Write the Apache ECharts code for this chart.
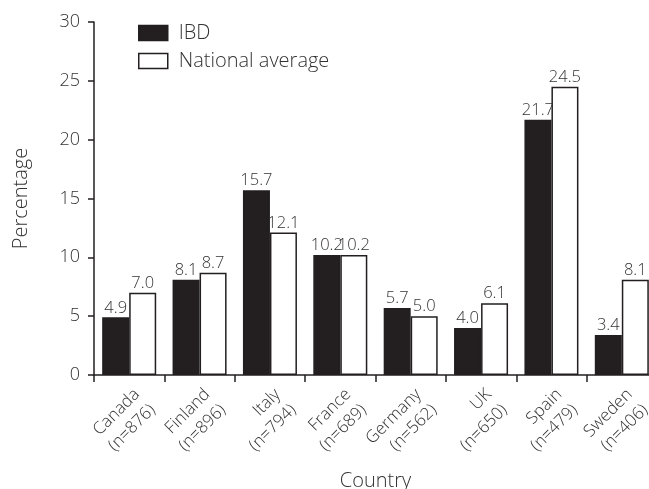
<!DOCTYPE html>
<html><head><meta charset="utf-8">
<script src="https://cdn.jsdelivr.net/npm/echarts@6/dist/echarts.min.js"></script>
<style>html,body{margin:0;padding:0;background:#fff}#c{width:649px;height:489px}</style>
</head><body><div id="c"></div>
<script>
const countries = ["Canada", "Finland", "Italy", "France", "Germany", "UK", "Spain", "Sweden"];
const sampleSizes = [876, 896, 794, 689, 562, 650, 479, 406];
const ibd = [4.9, 8.1, 15.7, 10.2, 5.7, 4.0, 21.7, 3.4];
const national = [7.0, 8.7, 12.1, 10.2, 5.0, 6.1, 24.5, 8.1];
const yTicks = [0, 5, 10, 15, 20, 25, 30];

const FONT = "Open Sans";
const TXT = "#333";
const categories = countries.map((c, i) => c + "\n(n=" + sampleSizes[i] + ")");

const chart = echarts.init(document.getElementById('c'), null, {renderer: 'canvas'});
const labelCfg = {show: true, position: 'top', distance: 1, fontFamily: FONT, fontWeight: 300, fontSize: 16.5, color: TXT,
  formatter: p => p.value.toFixed(1)};
chart.setOption({
  animation: false,
  textStyle: {fontFamily: FONT},
  grid: {left: 94, top: 22, bottom: 114, width: 563, containLabel: false, outerBoundsMode: 'none'},
  legend: {
    orient: 'vertical', left: 133, top: 18, itemWidth: 29, itemHeight: 15, itemGap: 8,
    textStyle: {fontFamily: FONT, fontWeight: 300, fontSize: 20, color: TXT, padding: [0, 0, 0, 6]},
    data: [
      {name: 'IBD', icon: 'rect', itemStyle: {color: '#231f20', borderColor: '#231f20', borderWidth: 1.5}},
      {name: 'National average', icon: 'rect', itemStyle: {color: '#fff', borderColor: '#231f20', borderWidth: 1.5}}
    ]
  },
  xAxis: {
    type: 'category', data: categories,
    name: 'Country', nameLocation: 'middle', nameGap: 82,
    nameTextStyle: {fontFamily: FONT, fontWeight: 300, fontSize: 20, color: TXT},
    axisLine: {lineStyle: {color: '#231f20', width: 1.5}},
    axisTick: {show: true, length: 7, lineStyle: {color: '#231f20', width: 1.5}},
    axisLabel: {rotate: 45, margin: 9, fontFamily: FONT, fontWeight: 300, fontSize: 17, color: TXT, lineHeight: 22, interval: 0,
      verticalAlign: 'top'}
  },
  yAxis: {
    type: 'value', min: 0, max: 30, interval: 5,
    name: 'Percentage', nameLocation: 'middle', nameGap: 63,
    nameTextStyle: {fontFamily: FONT, fontWeight: 300, fontSize: 20, color: TXT},
    axisLine: {show: true, lineStyle: {color: '#231f20', width: 1.5}},
    axisTick: {show: true, length: 6, lineStyle: {color: '#231f20', width: 1.5}},
    splitLine: {show: false},
    axisLabel: {fontFamily: FONT, fontWeight: 300, fontSize: 18, color: TXT, margin: 14,
      formatter: v => yTicks.includes(v) ? String(v) : ''}
  },
  series: [
    {name: 'IBD', type: 'bar', data: ibd, barWidth: 27, barGap: '0%',
     itemStyle: {color: '#231f20', borderColor: '#231f20', borderWidth: 1.5}, label: labelCfg},
    {name: 'National average', type: 'bar', data: national, barWidth: 27, barGap: '0%',
     itemStyle: {color: '#fff', borderColor: '#231f20', borderWidth: 1.5}, label: labelCfg}
  ]
});
</script></body></html>
